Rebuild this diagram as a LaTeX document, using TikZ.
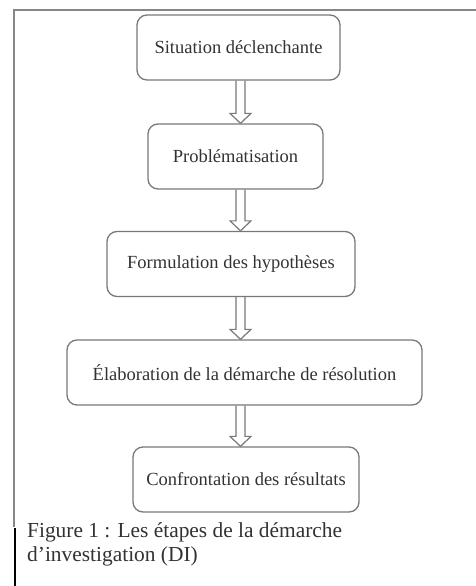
\documentclass[tikz,border=0pt]{standalone}
\usepackage{fontspec}
\setmainfont{Liberation Serif}
\usetikzlibrary{calc}
\definecolor{boxgray}{RGB}{120,120,120}
\definecolor{framegray}{RGB}{135,135,135}
\definecolor{textgray}{RGB}{50,50,50}
\newcommand\hollowarrow[2]{%
  \draw[harrow] ($(#1.south -| ax)+(-4.5,0)$) -- ($(#2.north -| ax)+(-4.5,-10)$)
    -- ($(#2.north -| ax)+(-10.5,-10)$) -- (#2.north -| ax)
    -- ($(#2.north -| ax)+(10.5,-10)$) -- ($(#2.north -| ax)+(4.5,-10)$)
    -- ($(#1.south -| ax)+(4.5,0)$);}
\begin{document}
\begin{tikzpicture}[x=1pt,y=-1pt,
  box/.style={draw=boxgray, line width=1.3pt, rounded corners=10pt,
    minimum height=65pt, inner sep=0pt, text=textgray,
    font=\fontsize{18.5}{22}\selectfont},
  harrow/.style={draw=boxgray, line width=1.2pt, line join=miter}]
\useasboundingbox (0,0) rectangle (476,586);
% frame
\coordinate (ftl) at (14,10);
\coordinate (ftr) at (476,10);
\coordinate (fbl) at (14,527);
\draw[framegray, line width=1.5pt] (ftr) -- (ftl) -- (fbl);
\coordinate (kt) at (15,528);
\coordinate (kb) at (15,586);
\draw[black, line width=2pt] (kt) -- (kb);
% boxes
\node[box, minimum width=203pt] (b1) at (238.5,47.5) {Situation déclenchante};
\node[box, minimum width=175pt] (b2) at (235.5,156.5) {Problématisation};
\node[box, minimum width=248pt] (b3) at (231,264) {Formulation des hypothèses};
\node[box, minimum width=355pt] (b4) at (244.5,372.5) {Élaboration de la démarche de résolution};
\node[box, minimum width=226pt] (b5) at (246,479.5) {Confrontation des résultats};
% arrows
\coordinate (ax) at (240.5,0);
\hollowarrow{b1}{b2}
\hollowarrow{b2}{b3}
\hollowarrow{b3}{b4}
\hollowarrow{b4}{b5}
% caption
\node[anchor=base west, inner sep=0pt, align=left, text=textgray,
  font=\fontsize{21.4}{24}\selectfont] (cap) at (27,561)
  {Figure 1 : Les étapes de la démarche\\d’investigation (DI)};
\end{tikzpicture}
\end{document}
